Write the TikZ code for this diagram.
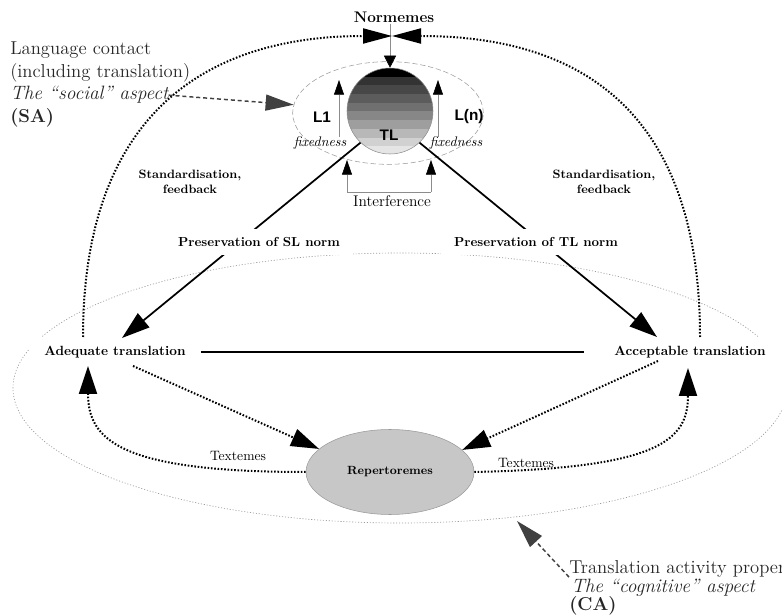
\documentclass[tikz,border=0pt]{standalone}
\usepackage{fontspec}
\newfontfamily\lsans{Liberation Sans}
\usetikzlibrary{arrows.meta,shapes.geometric}
\begin{document}
\begin{tikzpicture}[x=0.75pt,y=-0.75pt,
  dotline/.style={line width=1.5pt, dash pattern=on 1.2pt off 1.3pt},
  bigtip/.style={-{Triangle[length=21pt,width=13.5pt]}},
  bowtip/.style={-{Triangle[length=21.75pt,width=11.25pt]}},
  smalltip/.style={-{Triangle[length=11pt,width=7.5pt,color=black]}},
  thinline/.style={draw=black!45, line width=0.45pt},
  sadash/.style={draw=black!75, line width=1.1pt, dash pattern=on 3pt off 2.2pt,
     -{Triangle[length=21pt,width=12pt,color=black!75]}},
  solidline/.style={line width=1.3pt},
  boldlab/.style={font=\fontsize{10}{12}\selectfont\bfseries, fill=white, inner ysep=0pt, minimum height=21.75pt},
  stdlab/.style={font=\fontsize{9.1}{11.25}\selectfont\bfseries, align=center, inner sep=0pt},
  sanslab/.style={font=\fontsize{11.5}{13}\lsans\bfseries, inner sep=0pt},
  fixlab/.style={font=\fontsize{10.4}{12}\selectfont\itshape, inner sep=0pt},
  textlab/.style={font=\fontsize{10.2}{12}\selectfont, inner sep=0pt},
  bigtext/.style={font=\fontsize{14}{17}\selectfont, text=black!85, inner sep=0pt, anchor=base west}
]
\useasboundingbox (0,0) rectangle (782,616);

% cognitive aspect ellipse
\draw[draw=black!40, line width=0.5pt, dash pattern=on 0.8pt off 1.4pt] (400,388) ellipse (387 and 135);

% language ellipse
\node[ellipse, draw=black!40, line width=0.4pt, dash pattern=on 4pt off 2pt,
      minimum width=143pt, minimum height=77pt, inner sep=0pt] (lell) at (388,113) {};

% TL circle with bands
\begin{scope}
  \clip (390,111) circle (43);
  \foreach \i/\c in {0/100,1/80,2/72,3/64,4/56,5/47,6/38,7/28,8/18,9/10}
    \fill[black!\c] (340,{68+\i*8.7}) rectangle (440,{68+(\i+1)*8.7+0.6});
\end{scope}
\node[circle, draw=black!45, line width=0.4pt, minimum size=64.5pt, inner sep=0pt] (tl) at (390,111) {};
\node[sanslab] (tltext) at (389,135) {TL};
\node[sanslab] (l1) at (322,117) {L1};
\node[sanslab] (ln) at (469,117) {L(n)};
\node[fixlab] (fixL) at (320,143) {fixedness};
\node[fixlab] (fixR) at (456,143) {fixedness};

% fixedness arrows
\coordinate (fxLb) at (339,137);
\coordinate (fxLt) at (339,80);
\coordinate (fxRb) at (438,137);
\coordinate (fxRt) at (438,80);
\draw[thinline, smalltip] (fxLb) -- (fxLt);
\draw[thinline, smalltip] (fxRb) -- (fxRt);

% Interference
\node[font=\fontsize{11.6}{13}\selectfont, inner sep=0pt] (interf) at (392,201) {Interference};
\coordinate (ifL) at (347,192);
\coordinate (ifR) at (431,192);
\coordinate (ifLt) at (347,160);
\coordinate (ifRt) at (431,160);
\draw[thinline] (ifL) -- (ifR);
\draw[thinline, smalltip] (ifL) -- (ifLt);
\draw[thinline, smalltip] (ifR) -- (ifRt);

% Normemes
\node[font=\fontsize{11.5}{13}\selectfont\bfseries, inner sep=1pt] (norm) at (394,17) {Normemes};
\draw[draw=black!45, line width=0.4pt, -{Triangle[length=9pt,width=9pt,color=black]}]
   (norm.south -| tl.north) -- (tl.north);

% translation nodes
\node[boldlab, inner xsep=11.25pt] (adeq) at (115,352) {Adequate translation};
\node[boldlab, inner xsep=22.5pt] (acc) at (690,352) {Acceptable translation};
\draw[solidline] (adeq.east) -- (acc.west);

% big feedback arcs
\coordinate (apex) at (392,36);
\coordinate (arcL) at (83,337);
\coordinate (arcR) at (700,337);
\draw[dotline, bowtip] (arcL) .. controls (83,120) and (200,36) .. (apex);
\draw[dotline, bowtip] (arcR) .. controls (700,120) and (590,36) .. (apex);

% norm preservation lines
\coordinate (slEnd) at (122,338);
\coordinate (tlEnd) at (657,337);
\draw[solidline, bigtip] (tl.227) -- (slEnd);
\draw[solidline, bigtip] (tl.313) -- (tlEnd);
\node[font=\fontsize{9.8}{12}\selectfont\bfseries, fill=white, inner xsep=10pt, inner ysep=6pt] (psl) at (259,242) {Preservation of SL norm};
\node[font=\fontsize{9.8}{12}\selectfont\bfseries, fill=white, inner xsep=10pt, inner ysep=6pt] (ptl) at (536,242) {Preservation of TL norm};

\node[stdlab] (stdL) at (190,181.5) {Standardisation,\\feedback};
\node[stdlab] (stdR) at (604,181.5) {Standardisation,\\feedback};

% Repertoremes
\node[ellipse, fill=black!22, draw=black!40, line width=0.4pt, minimum width=126pt, minimum height=63.75pt,
      inner sep=0pt, font=\fontsize{8.9}{11}\selectfont\bfseries] (rep) at (390,472) {Repertoremes};

\coordinate (adqB) at (133,366);
\coordinate (accB) at (658,361);
\coordinate (adqTip) at (88,366);
\coordinate (accTip) at (688,368);
\draw[dotline, bigtip] (adqB) -- (rep.162);
\draw[dotline, bigtip] (accB) -- (rep.17);
\draw[dotline, bigtip] (rep.west) .. controls (120,472) and (88,440) .. (adqTip);
\draw[dotline, bigtip] (rep.east) .. controls (660,468) and (688,440) .. (accTip);
\node[textlab] (txL) at (238,456) {Textemes};
\node[textlab] (txR) at (526,463) {Textemes};

% social aspect
\node[bigtext] (sa1) at (10,55) {Language contact};
\node[bigtext] (sa2) at (10,77.5) {(including translation)};
\node[bigtext, font=\fontsize{14.5}{17}\selectfont\itshape] (sa3) at (10,100) {The “social” aspect};
\node[bigtext, font=\fontsize{14}{17}\selectfont\bfseries] (sa4) at (10,122.5) {(SA)};
\draw[sadash] (sa3.east) -- (lell.175);

% cognitive aspect
\node[bigtext] (ca1) at (569,573) {Translation activity proper};
\node[bigtext, font=\fontsize{14.5}{17}\selectfont\itshape] (ca2) at (571,592) {The “cognitive” aspect};
\node[bigtext, font=\fontsize{14}{17}\selectfont\bfseries] (ca3) at (569,610) {(CA)};
\coordinate (caTip) at (517,521);
\draw[sadash] (ca1.south west) -- (caTip);
\end{tikzpicture}
\end{document}
